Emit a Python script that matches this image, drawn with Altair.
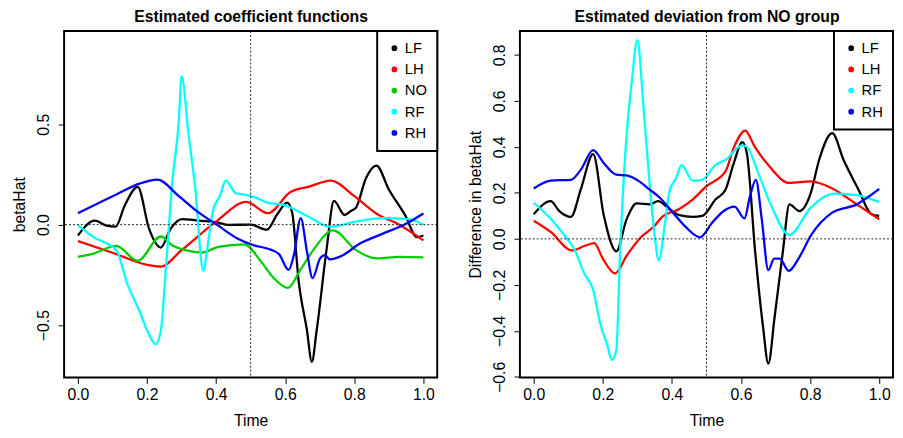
import altair as alt
import pandas as pd

FONT = "Liberation Sans"

# ---------------- Left panel: estimated coefficient functions ----------------
groups_left = ["LF", "LH", "NO", "RF", "RH"]
colors_left = ["#000000", "#FF0000", "#00CD00", "#00FFFF", "#0000FF"]

lf_left_t = [0, .049, .083, .109, .135, .173, .206, .24, .268, .301, .349, .406, .435, .5, .547, .577, .606, .62, .639, .663, .677, .691, .72, .741, .772, .791, .805, .834, .864, .9, .948, .981, 1.0]
lf_left_v = [-0.054, 0.02, -0.005, -0.01, 0.093, 0.188, -0.021, -0.114, -0.021, 0.028, 0.02, 0.01, -0.001, 0.0, -0.025, 0.052, 0.11, 0.061, -0.282, -0.527, -0.683, -0.527, -0.119, 0.118, 0.048, 0.069, 0.085, 0.232, 0.294, 0.175, 0.044, -0.062, -0.054]

lh_left_t = [0, .1, .2, .24, .3, .4, .487, .55, .615, .667, .732, .8, .867, .93, 1.0]
lh_left_v = [-0.082, -0.14, -0.2, -0.209, -0.127, 0.015, 0.113, 0.057, 0.162, 0.188, 0.219, 0.142, 0.052, 0.0, -0.078]

no_left_t = [0, .045, .111, .173, .24, .273, .311, .358, .406, .482, .53, .567, .608, .644, .681, .739, .805, .867, .929, 1.0]
no_left_v = [-0.16, -0.144, -0.106, -0.18, -0.059, -0.103, -0.127, -0.139, -0.111, -0.098, -0.184, -0.266, -0.315, -0.225, -0.127, -0.029, -0.127, -0.168, -0.16, -0.163]

rf_left_t = [0, .045, .111, .144, .178, .201, .225, .24, .254, .273, .292, .30, .32, .339, .363, .377, .392, .411, .428, .458, .482, .52, .548, .596, .672, .729, .805, .881, .957, 1.0]
rf_left_v = [-0.002, -0.062, -0.127, -0.299, -0.43, -0.528, -0.596, -0.528, -0.233, 0.208, 0.518, 0.739, 0.453, 0.191, -0.23, -0.086, 0.077, 0.142, 0.219, 0.155, 0.15, 0.131, 0.11, 0.097, 0.036, -0.01, 0.015, 0.033, 0.028, 0.0]

rh_left_t = [0, .111, .178, .23, .292, .349, .406, .463, .51, .548, .582, .61, .625, .645, .663, .679, .701, .715, .729, .767, .815, .881, .948, 1.0]
rh_left_v = [0.057, 0.15, 0.204, 0.224, 0.142, 0.061, -0.005, -0.07, -0.103, -0.119, -0.147, -0.225, -0.152, 0.033, -0.135, -0.266, -0.168, -0.152, -0.173, -0.152, -0.095, -0.046, 0.003, 0.056]

# ---------------- Right panel: deviation from NO group ----------------
groups_right = ["LF", "LH", "RF", "RH"]
colors_right = ["#000000", "#FF0000", "#00FFFF", "#0000FF"]

lf_right_t = [0, .049, .074, .108, .136, .172, .203, .239, .269, .298, .336, .36, .393, .422, .46, .488, .526, .555, .579, .604, .617, .641, .664, .679, .697, .721, .74, .769, .802, .826, .864, .897, .94, .978, 1.0]
lf_right_v = [0.107, 0.164, 0.121, 0.096, 0.214, 0.369, 0.1, -0.054, 0.086, 0.154, 0.15, 0.164, 0.129, 0.103, 0.096, 0.1, 0.171, 0.214, 0.329, 0.421, 0.371, -0.057, -0.386, -0.543, -0.343, -0.057, 0.15, 0.121, 0.2, 0.343, 0.46, 0.343, 0.214, 0.107, 0.1]

lh_right_t = [0, .05, .11, .15, .175, .2, .235, .27, .31, .35, .37, .42, .46, .5, .555, .58, .612, .64, .679, .74, .802, .864, .935, 1.0]
lh_right_v = [0.079, 0.029, -0.05, -0.029, -0.019, -0.086, -0.15, -0.071, 0.007, 0.057, 0.093, 0.129, 0.171, 0.229, 0.293, 0.4, 0.471, 0.4, 0.321, 0.243, 0.25, 0.219, 0.15, 0.086]

rf_right_t = [0, .05, .093, .117, .146, .172, .193, .212, .226, .239, .25, .265, .284, .3, .317, .336, .35, .362, .379, .393, .412, .428, .46, .488, .526, .555, .603, .617, .65, .688, .74, .802, .869, .935, 1.0]
rf_right_v = [0.157, 0.086, 0.007, -0.043, -0.15, -0.221, -0.371, -0.457, -0.526, -0.486, -0.057, 0.371, 0.686, 0.864, 0.586, 0.229, 0.014, -0.093, 0.057, 0.207, 0.264, 0.321, 0.253, 0.257, 0.321, 0.343, 0.407, 0.4, 0.286, 0.143, 0.017, 0.136, 0.197, 0.19, 0.16]

rh_right_t = [0, .049, .108, .136, .172, .203, .239, .269, .298, .336, .365, .403, .441, .481, .517, .55, .581, .61, .626, .643, .66, .679, .696, .712, .738, .769, .802, .864, .935, 1.0]
rh_right_v = [0.219, 0.253, 0.257, 0.3, 0.386, 0.329, 0.279, 0.276, 0.257, 0.214, 0.179, 0.114, 0.05, 0.007, 0.071, 0.121, 0.14, 0.089, 0.186, 0.257, 0.086, -0.136, -0.086, -0.086, -0.139, -0.079, 0.014, 0.114, 0.15, 0.217]

x_ticks = [0.0, 0.2, 0.4, 0.6, 0.8, 1.0]
y_ticks_left = [-0.5, 0.0, 0.5]
y_ticks_right = [-0.6, -0.4, -0.2, 0.0, 0.2, 0.4, 0.6, 0.8]


def long_frame(series):
    rows = []
    for name, ts, vs in series:
        for i, (t, v) in enumerate(zip(ts, vs)):
            rows.append({"series": name, "t": t, "v": v, "i": i})
    return pd.DataFrame(rows)


df_left = long_frame([
    ("LF", lf_left_t, lf_left_v), ("LH", lh_left_t, lh_left_v),
    ("NO", no_left_t, no_left_v), ("RF", rf_left_t, rf_left_v),
    ("RH", rh_left_t, rh_left_v)])
df_right = long_frame([
    ("LF", lf_right_t, lf_right_v), ("LH", lh_right_t, lh_right_v),
    ("RF", rf_right_t, rf_right_v), ("RH", rh_right_t, rh_right_v)])

H = 352
W = 379


def panel(df, groups, colors, ydomain, yticks, title, ytitle, width):
    xscale = alt.Scale(domain=[-0.04, 1.04], nice=False, zero=False)
    yscale = alt.Scale(domain=ydomain, nice=False, zero=False)
    xaxis = alt.Axis(values=x_ticks, format=".1f", title="Time", grid=False, domain=False,
                     tickSize=6, tickColor="black", tickWidth=1,
                     labelFont=FONT, labelFontSize=16, labelColor="black", labelPadding=3,
                     titleFont=FONT, titleFontSize=16, titleFontWeight="normal", titleColor="black",
                     titleBaseline="alphabetic", titleY=49, titleX=width / 2, titleAlign="center")
    topaxis = alt.Axis(orient="top", title=title, labels=False, ticks=False, domain=False, grid=False,
                       titleFont=FONT, titleFontSize=16, titleFontWeight="bold", titleColor="black",
                       titleBaseline="alphabetic", titleY=-10, titleX=width / 2, titleAlign="center")
    yaxis = alt.Axis(values=yticks, format=".1f", title=ytitle, grid=False, domain=False,
                     tickSize=6, tickColor="black", tickWidth=1,
                     labelFont=FONT, labelFontSize=16, labelColor="black",
                     labelAngle=-90, labelAlign="center", labelBaseline="alphabetic", labelPadding=10,
                     titleFont=FONT, titleFontSize=16, titleFontWeight="normal", titleColor="black",
                     titleAngle=-90, titleAlign="center", titleBaseline="alphabetic",
                     titleX=-40, titleY=H / 2)
    lines = alt.Chart(df).mark_line(strokeWidth=2.3, interpolate="monotone").encode(
        x=alt.X("t:Q", scale=xscale, axis=xaxis),
        y=alt.Y("v:Q", scale=yscale, axis=yaxis),
        color=alt.Color("series:N", scale=alt.Scale(domain=groups, range=colors),
                        legend=alt.Legend(orient="top-right", offset=0, title=None,
                                          symbolType="circle", symbolSize=8, symbolStrokeWidth=3,
                                          labelFont=FONT, labelFontSize=15, labelColor="black",
                                          padding=10, rowPadding=5.5, labelOffset=3,
                                          strokeColor="black", fillColor="white")),
        order="i:Q",
    )
    hline = alt.Chart(pd.DataFrame({"v": [0.0]})).mark_rule(
        color="#222222", strokeWidth=1, strokeDash=[2, 2]).encode(y=alt.Y("v:Q", scale=yscale))
    vline = alt.Chart(pd.DataFrame({"t": [0.5]})).mark_rule(
        color="#222222", strokeWidth=1, strokeDash=[2, 2]).encode(
        x=alt.X("t:Q", scale=xscale, axis=topaxis))
    return alt.layer(lines, hline, vline).resolve_axis(x="independent").properties(
        width=width, height=H)


left = panel(df_left, groups_left, colors_left, [-0.761, 0.964], y_ticks_left,
             "Estimated coefficient functions", "betaHat", W)
right = panel(df_right, groups_right, colors_right, [-0.603, 0.904], y_ticks_right,
              "Estimated deviation from NO group", "Difference in betaHat", W)

chart = alt.hconcat(left, right, spacing=28).resolve_scale(color="independent").resolve_legend(
    color="independent").properties(
    padding={"left": 3, "top": -4, "right": 0, "bottom": 0}
).configure_view(stroke="black", strokeWidth=2).configure_legend(strokeWidth=2)

chart.save("out.html", embed_options={"renderer": "svg", "actions": False})
